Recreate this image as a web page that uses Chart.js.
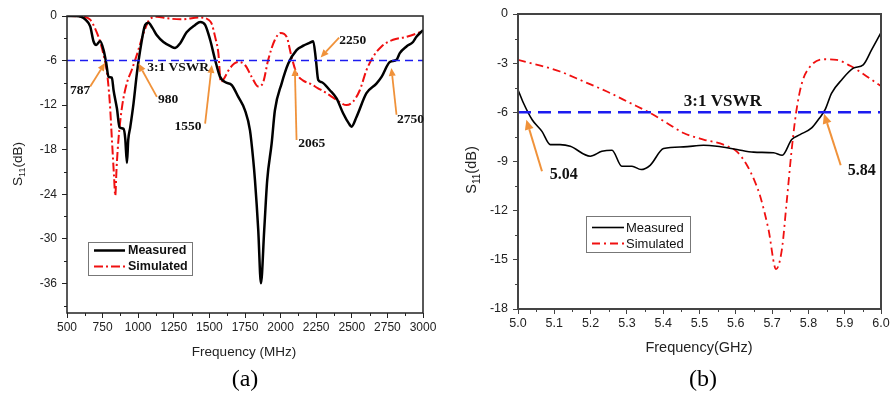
<!DOCTYPE html>
<html>
<head>
<meta charset="utf-8">
<script src="https://cdn.jsdelivr.net/npm/chart.js@4.4.1/dist/chart.umd.min.js"></script>
<style>
  html, body { margin: 0; padding: 0; background: #fff; width: 896px; height: 394px; overflow: hidden; }
  canvas { position: absolute; top: 0; }
  #ca { left: 0; }
  #cb { left: 450px; }
</style>
</head>
<body>
<canvas id="ca" width="440" height="394"></canvas>
<canvas id="cb" width="446" height="394"></canvas>
<script>
// ═══ DATA (a) : 500–3000 MHz ═══
const freqMeasA = [500,560,600,630,663,686,705,733,757,775,792,815,827,851,869,897,909,921,930,944,967,991,1014,1049,1072,1100,1131,1177,1230,1259,1294,1340,1400,1435,1470,1505,1540,1575,1610,1657,1703,1750,1785,1808,1820,1843,1862,1885,1906,1937,1960,2007,2054,2112,2160,2206,2229,2248,2264,2288,2346,2393,2439,2480,2498,2533,2603,2673,2709,2767,2814,2837,2884,2930,2954,3000];
const s11MeasA = [0,0,-0.1,-0.5,-1.4,-3.4,-3.9,-3.4,-4.6,-6.3,-8.2,-8.3,-10,-12.5,-15.0,-15.2,-16.5,-19.8,-16.7,-15.0,-11.8,-7.7,-4.6,-1.2,-0.9,-1.6,-2.6,-3.5,-4.1,-4.3,-3.7,-2.2,-1.2,-0.8,-1.2,-3.2,-5.9,-8.2,-8.9,-9.3,-10.9,-12.7,-15.4,-19.4,-22.1,-28.8,-36,-28.8,-22.1,-17.2,-12.7,-9.1,-6.4,-4.6,-4.0,-3.6,-3.4,-5.9,-8.6,-8.9,-10,-11.1,-13.1,-14.5,-14.9,-13.6,-10.4,-9.1,-8.2,-6.2,-5.9,-5.0,-4.1,-3.5,-2.8,-1.9];
const freqSimA = [500,616,663,700,733,760,780,800,815,830,839,848,862,886,921,956,991,1026,1049,1075,1131,1200,1296,1435,1493,1515,1540,1563,1580,1600,1645,1703,1750,1797,1843,1878,1913,1960,2000,2042,2077,2112,2159,2206,2260,2323,2393,2463,2510,2556,2603,2650,2709,2790,2884,2989,3000];
const s11SimA = [0,-0.1,-0.5,-1.8,-3.5,-5.5,-7.5,-11.5,-16.5,-21.5,-24.2,-20.5,-16.5,-12.3,-9.0,-7.2,-5.2,-3.0,-1.7,-0.6,-0.1,-0.3,-0.45,-0.2,-0.5,-1.0,-2.8,-5.0,-8.9,-8.5,-7.0,-6.2,-6.6,-8.2,-9.5,-8.9,-5.9,-3.2,-2.3,-2.8,-5.5,-7.7,-8.7,-9.1,-9.7,-10.4,-11.3,-12,-11.5,-10,-7.3,-5.5,-4.1,-3.2,-2.8,-2.1,-2.0];
const xTicksA = [500,750,1000,1250,1500,1750,2000,2250,2500,2750,3000];
const xMinorA = [625,875,1125,1375,1625,1875,2125,2375,2625,2875];
const yTicksA = [0,-6,-12,-18,-24,-30,-36];
const yMinorA = [-3,-9,-15,-21,-27,-33,-39];
// annotation arrows (data units): label, tip, tail, text centre
const markLabelsA = ['787','980','1550','2065','2250','2750'];
const markTipA = [[768,-6.3],[1002,-6.4],[1517,-6.6],[2100,-7.0],[2281,-5.6],[2778,-7.0]];
const markTailA = [[663,-9.5],[1131,-10.9],[1470,-14.5],[2112,-16.7],[2411,-2.9],[2814,-13.3]];
const markTextA = [[593,-10],[1210,-11.3],[1350,-14.9],[2218,-17.2],[2507,-3.3],[2912,-13.9]];
const vswrTextA = [1280,-7.0];

// ═══ DATA (b) : 5.0–6.0 GHz ═══
const freqMeasB = [5.0,5.015,5.039,5.066,5.089,5.116,5.144,5.199,5.231,5.259,5.286,5.314,5.339,5.364,5.401,5.456,5.511,5.548,5.603,5.649,5.704,5.728,5.754,5.777,5.809,5.827,5.846,5.864,5.892,5.924,5.951,5.974,6.0];
const s11MeasB = [-4.62,-5.43,-6.45,-7.16,-7.97,-7.97,-8.07,-8.68,-8.38,-8.31,-9.29,-9.29,-9.49,-9.23,-8.21,-8.11,-8.01,-8.07,-8.27,-8.43,-8.47,-8.62,-7.66,-7.36,-6.95,-6.45,-5.84,-4.83,-4.01,-3.30,-3.10,-2.19,-1.14];
const freqSimB = [5.0,5.07,5.116,5.181,5.245,5.309,5.364,5.41,5.456,5.511,5.566,5.603,5.63,5.652,5.667,5.69,5.711,5.727,5.74,5.754,5.766,5.782,5.805,5.841,5.878,5.915,5.961,6.0];
const s11SimB = [-2.80,-3.20,-3.51,-4.12,-4.73,-5.43,-6.04,-6.65,-7.26,-7.66,-7.97,-8.40,-9.2,-10.2,-11.11,-13.14,-15.57,-14.36,-11.51,-8.27,-6.04,-4.22,-3.20,-2.76,-2.80,-3.16,-3.81,-4.40];
const xTicksB = [5.0,5.1,5.2,5.3,5.4,5.5,5.6,5.7,5.8,5.9,6.0];
const xMinorB = [5.05,5.15,5.25,5.35,5.45,5.55,5.65,5.75,5.85,5.95];
const yTicksB = [0,-3,-6,-9,-12,-15,-18];
const yMinorB = [-1.5,-4.5,-7.5,-10.5,-13.5,-16.5];
const markLabelsB = ['5.04','5.84'];
const markTipB = [[5.023,-6.45],[5.843,-6.08]];
const markTailB = [[5.066,-9.59],[5.889,-9.23]];
const markTextB = [[5.126,-9.79],[5.947,-9.59]];
const vswrTextB = [5.564,-5.33];

const vswrLevel = -6;
const ORANGE = '#f0923a';

const pts = (xs, ys) => xs.map((x, i) => ({ x, y: ys[i] }));

function drawArrow(ctx, x1, y1, x2, y2, head, half, lw) {
  const a = Math.atan2(y2 - y1, x2 - x1);
  const bx = x2 - head * Math.cos(a), by = y2 - head * Math.sin(a);
  ctx.save();
  ctx.strokeStyle = ORANGE; ctx.fillStyle = ORANGE; ctx.lineWidth = lw;
  ctx.beginPath(); ctx.moveTo(x1, y1); ctx.lineTo(bx, by); ctx.stroke();
  ctx.beginPath();
  ctx.moveTo(x2, y2);
  ctx.lineTo(bx + half * Math.sin(a), by - half * Math.cos(a));
  ctx.lineTo(bx - half * Math.sin(a), by + half * Math.cos(a));
  ctx.closePath(); ctx.fill();
  ctx.restore();
}

// decorations: frame, minor ticks, arrows, labels, legend, titles
function makeDecor(c) {
  return {
    id: 'decor',
    afterDraw(chart) {
      const ctx = chart.ctx, ca = chart.chartArea;
      const xs = chart.scales.x, ys = chart.scales.y;
      ctx.save();
      // minor ticks
      ctx.strokeStyle = c.frameColor; ctx.lineWidth = 1;
      c.xMinor.forEach(v => {
        const px = Math.round(xs.getPixelForValue(v)) + 0.5;
        ctx.beginPath(); ctx.moveTo(px, ca.bottom); ctx.lineTo(px, ca.bottom + 3); ctx.stroke();
      });
      c.yMinor.forEach(v => {
        const py = Math.round(ys.getPixelForValue(v)) + 0.5;
        ctx.beginPath(); ctx.moveTo(ca.left, py); ctx.lineTo(ca.left - 3, py); ctx.stroke();
      });
      // frame
      ctx.lineWidth = c.frameWidth;
      ctx.strokeRect(ca.left, ca.top, ca.right - ca.left, ca.bottom - ca.top);

      // arrows + labels
      c.labels.forEach((t, i) => {
        drawArrow(ctx,
          xs.getPixelForValue(c.tails[i][0]), ys.getPixelForValue(c.tails[i][1]),
          xs.getPixelForValue(c.tips[i][0]), ys.getPixelForValue(c.tips[i][1]),
          c.arrowHead, c.arrowHalf, c.arrowWidth);
      });
      ctx.fillStyle = '#111';
      ctx.textAlign = 'center'; ctx.textBaseline = 'middle';
      ctx.font = 'bold ' + c.markFont + 'px "Liberation Serif", "Times New Roman", serif';
      c.labels.forEach((t, i) => {
        ctx.fillText(t, xs.getPixelForValue(c.texts[i][0]), ys.getPixelForValue(c.texts[i][1]));
      });
      ctx.font = 'bold ' + c.vswrFont + 'px "Liberation Serif", "Times New Roman", serif';
      ctx.fillText('3:1 VSWR', xs.getPixelForValue(c.vswrText[0]), ys.getPixelForValue(c.vswrText[1]));

      // legend
      const L = c.legend;
      ctx.fillStyle = '#fff'; ctx.fillRect(L.x, L.y, L.w, L.h);
      ctx.strokeStyle = L.border; ctx.lineWidth = 1;
      ctx.strokeRect(L.x + 0.5, L.y + 0.5, L.w, L.h);
      c.series.forEach((s, i) => {
        const ry = L.rows[i];
        ctx.strokeStyle = s.color; ctx.lineWidth = s.width; ctx.setLineDash(s.dash);
        ctx.beginPath(); ctx.moveTo(L.lx0, ry); ctx.lineTo(L.lx1, ry); ctx.stroke();
        ctx.setLineDash([]);
        ctx.fillStyle = '#111'; ctx.textAlign = 'left';
        ctx.font = L.font;
        ctx.fillText(s.name, L.tx, ry + 0.5);
      });

      // x title and panel tag
      ctx.fillStyle = '#222'; ctx.textAlign = 'center';
      ctx.font = c.titleFont + 'px "Liberation Sans", Arial, sans-serif';
      ctx.fillText(c.xTitle, c.xTitlePos[0], c.xTitlePos[1]);
      ctx.fillStyle = '#000';
      ctx.font = '24px "Liberation Serif", "Times New Roman", serif';
      ctx.fillText(c.tag, c.tagPos[0], c.tagPos[1]);

      // y title with subscript
      ctx.translate(c.yTitlePos[0], c.yTitlePos[1]);
      ctx.rotate(-Math.PI / 2);
      ctx.fillStyle = '#222'; ctx.textAlign = 'left';
      const big = c.titleFont + 'px "Liberation Sans", Arial, sans-serif';
      const small = Math.round(c.titleFont * 0.68) + 'px "Liberation Sans", Arial, sans-serif';
      ctx.font = big; const wS = ctx.measureText('S').width, wDB = ctx.measureText('(dB)').width;
      ctx.font = small; const w11 = ctx.measureText('11').width;
      let x0 = -(wS + w11 + wDB) / 2;
      ctx.font = big; ctx.fillText('S', x0, 0);
      ctx.font = small; ctx.fillText('11', x0 + wS, 5);
      ctx.font = big; ctx.fillText('(dB)', x0 + wS + w11, 0);
      ctx.restore();
    }
  };
}

function makeChart(id, c) {
  const datasets = [
    { data: pts([c.xMin, c.xMax], [vswrLevel, vswrLevel]), borderColor: '#1c1cf0', borderWidth: c.vswrWidth, borderDash: c.vswrDash },
  ].concat(c.series.map(s => ({
    data: s.data, borderColor: s.color, borderWidth: s.width, borderDash: s.dash,
    cubicInterpolationMode: 'monotone', tension: 0.4
  })));
  const tickFont = { family: '"Liberation Sans", Arial, sans-serif', size: c.tickFont };
  return new Chart(document.getElementById(id), {
    type: 'line',
    data: { datasets },
    options: {
      responsive: false, animation: false,
      layout: { padding: { top: c.padTop, right: c.padRight, left: 0, bottom: 0 } },
      plugins: { legend: { display: false }, tooltip: { enabled: false } },
      elements: { point: { radius: 0 } },
      scales: {
        x: {
          type: 'linear', min: c.xMin, max: c.xMax,
          afterBuildTicks: s => { s.ticks = c.xTicks.map(v => ({ value: v })); },
          afterFit: s => { s.height = c.xAxisH; },
          grid: { drawOnChartArea: false, drawTicks: true, tickLength: 5, color: c.frameColor },
          border: { display: false },
          ticks: { autoSkip: false, maxRotation: 0, font: tickFont, color: '#222', padding: 2, callback: c.xFmt }
        },
        y: {
          type: 'linear', min: c.yMin, max: 0,
          afterBuildTicks: s => { s.ticks = c.yTicks.map(v => ({ value: v })); },
          afterFit: s => { s.width = c.yAxisW; },
          grid: { drawOnChartArea: false, drawTicks: true, tickLength: 5, color: c.frameColor },
          border: { display: false },
          ticks: { autoSkip: false, font: tickFont, color: '#222', padding: 5, callback: v => String(v) }
        }
      }
    },
    plugins: [makeDecor(c)]
  });
}

// ═══ (a) ═══
makeChart('ca', {
  xMin: 500, xMax: 3000, yMin: -40,
  xTicks: xTicksA, yTicks: yTicksA, xMinor: xMinorA, yMinor: yMinorA,
  xFmt: v => String(v),
  padTop: 16, padRight: 17, xAxisH: 81, yAxisW: 67,
  tickFont: 12, titleFont: 13.5,
  frameColor: '#222', frameWidth: 1.5,
  vswrWidth: 1.5, vswrDash: [8, 5],
  series: [
    { name: 'Measured', data: pts(freqMeasA, s11MeasA), color: '#000', width: 2.5, dash: [] },
    { name: 'Simulated', data: pts(freqSimA, s11SimA), color: '#f01010', width: 2, dash: [9, 3, 2, 3] }
  ],
  labels: markLabelsA, tips: markTipA, tails: markTailA, texts: markTextA,
  vswrText: vswrTextA, markFont: 13.5, vswrFont: 13.5,
  arrowHead: 8, arrowHalf: 3.5, arrowWidth: 1.8,
  legend: { x: 88, y: 242, w: 104, h: 33, rows: [250.5, 266.5], lx0: 94, lx1: 125, tx: 128,
            border: '#777', font: 'bold 12.5px "Liberation Sans", Arial, sans-serif' },
  xTitle: 'Frequency (MHz)', xTitlePos: [244, 352],
  tag: '(a)', tagPos: [245, 380],
  yTitlePos: [18, 164]
});

// ═══ (b) ═══
makeChart('cb', {
  xMin: 5.0, xMax: 6.0, yMin: -18,
  xTicks: xTicksB, yTicks: yTicksB, xMinor: xMinorB, yMinor: yMinorB,
  xFmt: v => v.toFixed(1),
  padTop: 14, padRight: 15, xAxisH: 85, yAxisW: 68,
  tickFont: 12.5, titleFont: 14.5,
  frameColor: '#444', frameWidth: 2,
  vswrWidth: 2.5, vswrDash: [13, 7],
  series: [
    { name: 'Measured', data: pts(freqMeasB, s11MeasB), color: '#000', width: 1.6, dash: [] },
    { name: 'Simulated', data: pts(freqSimB, s11SimB), color: '#f01010', width: 1.8, dash: [8, 4, 2, 4] }
  ],
  labels: markLabelsB, tips: markTipB, tails: markTailB, texts: markTextB,
  vswrText: vswrTextB, markFont: 16, vswrFont: 17,
  arrowHead: 10, arrowHalf: 4.5, arrowWidth: 2,
  legend: { x: 136, y: 216, w: 104, h: 36, rows: [227.5, 243.5], lx0: 142, lx1: 174, tx: 176,
            border: '#777', font: '13px "Liberation Sans", Arial, sans-serif' },
  xTitle: 'Frequency(GHz)', xTitlePos: [249, 348],
  tag: '(b)', tagPos: [253, 380],
  yTitlePos: [22, 170]
});
</script>
</body>
</html>
